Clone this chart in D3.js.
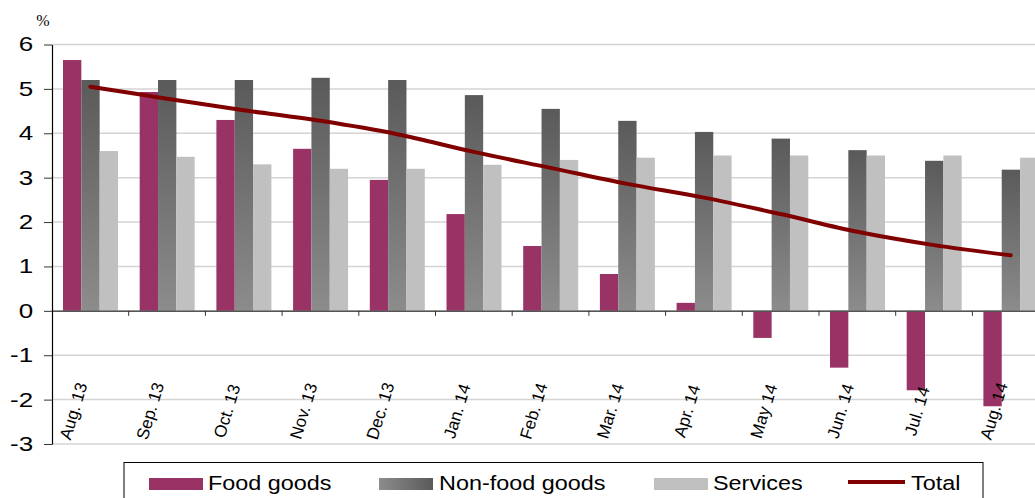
<!DOCTYPE html>
<html>
<head>
<meta charset="utf-8">
<script src="https://cdn.jsdelivr.net/npm/d3@7"></script>
<style>
  body { margin: 0; background: #fff; }
  svg { display: block; font-family: "Liberation Sans", Arial, sans-serif; }
</style>
</head>
<body>
<div id="chart"></div>
<script>
// data
const months = ['Aug. 13', 'Sep. 13', 'Oct. 13', 'Nov. 13', 'Dec. 13', 'Jan. 14', 'Feb. 14',
                'Mar. 14', 'Apr. 14', 'May 14', 'Jun. 14', 'Jul. 14', 'Aug. 14'];
const seriesNames = ['Food goods', 'Non-food goods', 'Services'];
const foodGoods = [5.65, 4.93, 4.30, 3.65, 2.95, 2.18, 1.46, 0.83, 0.18, -0.61, -1.28, -1.79, -2.15];
const nonFoodGoods = [5.20, 5.20, 5.20, 5.25, 5.20, 4.86, 4.55, 4.28, 4.03, 3.88, 3.62, 3.38, 3.18];
const services = [3.60, 3.47, 3.30, 3.20, 3.20, 3.29, 3.40, 3.45, 3.50, 3.50, 3.50, 3.50, 3.45];
const total = [5.05, 4.78, 4.52, 4.28, 3.98, 3.58, 3.22, 2.86, 2.55, 2.18, 1.78, 1.48, 1.25];
const yTicks = [-3, -2, -1, 0, 1, 2, 3, 4, 5, 6];

const W = 1035, H = 498;
const plotLeft = 52, plotTop = 44.5, plotBottom = 444;
const bandW = 76.7;

const svg = d3.select('#chart').append('svg')
    .attr('width', W).attr('height', H)
    .style('overflow', 'hidden');

// gradients
const defs = svg.append('defs');
const gv = defs.append('linearGradient').attr('id', 'nonfood-v')
    .attr('x1', 0).attr('y1', 0).attr('x2', 0).attr('y2', 1);
gv.append('stop').attr('offset', '0%').attr('stop-color', '#5a5a5a');
gv.append('stop').attr('offset', '100%').attr('stop-color', '#8c8c8c');
const gh = defs.append('linearGradient').attr('id', 'nonfood-h')
    .attr('x1', 0).attr('y1', 0).attr('x2', 1).attr('y2', 0);
gh.append('stop').attr('offset', '0%').attr('stop-color', '#8c8c8c');
gh.append('stop').attr('offset', '100%').attr('stop-color', '#5a5a5a');

const colors = { 'Food goods': '#993366', 'Non-food goods': 'url(#nonfood-v)', 'Services': '#c0c0c0' };

// scales
const x = d3.scaleBand().domain(months).range([plotLeft, plotLeft + bandW * months.length]).padding(0);
const x1 = d3.scaleBand().domain(seriesNames).range([11, 11 + 55]).padding(0);
const y = d3.scaleLinear().domain([-3, 6]).range([plotBottom, plotTop]);

// gridlines
svg.append('g').selectAll('line').data(yTicks).join('line')
    .attr('x1', plotLeft).attr('x2', W)
    .attr('y1', d => y(d)).attr('y2', d => y(d))
    .attr('stroke', '#d4d4d4').attr('stroke-width', 1.5);

// bars
const rows = months.map((m, i) => ({
    month: m,
    vals: [foodGoods[i], nonFoodGoods[i], services[i]].map((v, j) => ({ key: seriesNames[j], value: v }))
}));
const groups = svg.append('g').selectAll('g').data(rows).join('g')
    .attr('transform', d => `translate(${x(d.month)},0)`);
groups.selectAll('rect').data(d => d.vals).join('rect')
    .attr('x', d => x1(d.key))
    .attr('width', x1.bandwidth())
    .attr('y', d => y(Math.max(0, d.value)))
    .attr('height', d => Math.abs(y(d.value) - y(0)))
    .attr('fill', d => colors[d.key]);

// zero axis with category ticks
const xAxis = d3.axisBottom(x).tickSize(0).tickFormat('');
svg.append('g').attr('transform', `translate(0,${y(0)})`).call(xAxis)
    .select('.domain').attr('stroke', '#555').attr('stroke-width', 1.5);
svg.append('g').selectAll('line').data(months.slice(1)).join('line')
    .attr('x1', d => x(d)).attr('x2', d => x(d))
    .attr('y1', y(0)).attr('y2', y(0) + 5)
    .attr('stroke', '#333').attr('stroke-width', 1);

// category labels
svg.append('g').selectAll('text').data(months).join('text')
    .attr('transform', d => `translate(${x(d) + bandW / 2 - 17},411) rotate(-73)`)
    .attr('text-anchor', 'middle')
    .attr('dy', '0.35em')
    .attr('font-size', 17)
    .attr('fill', '#000')
    .text(d => d);

// total line
const line = d3.line()
    .x((d, i) => x(months[i]) + bandW / 2)
    .y(d => y(d))
    .curve(d3.curveCatmullRom.alpha(0.5));
svg.append('path').datum(total)
    .attr('d', line)
    .attr('fill', 'none')
    .attr('stroke', '#800000')
    .attr('stroke-width', 4)
    .attr('stroke-linecap', 'round');

// y axis
const yAxis = d3.axisLeft(y).tickValues(yTicks).tickSize(8).tickSizeOuter(0).tickFormat(d => String(d));
const yG = svg.append('g').attr('transform', `translate(${plotLeft},0)`).call(yAxis);
yG.select('.domain').attr('stroke', '#000').attr('stroke-width', 1.2);
yG.selectAll('.tick line').attr('stroke', '#333');
yG.selectAll('.tick text')
    .attr('font-size', 20)
    .attr('font-family', '"Liberation Sans", Arial, sans-serif')
    .attr('fill', '#000')
    .attr('x', -14.5)
    .attr('transform', 'scale(1.3,1)');

svg.append('text').attr('x', 43).attr('y', 26)
    .attr('text-anchor', 'middle')
    .attr('font-size', 16)
    .attr('font-family', '"Liberation Serif", serif')
    .text('%');

// legend
const lg = svg.append('g');
lg.append('rect').attr('x', 124).attr('y', 462.5).attr('width', 859).attr('height', 60)
    .attr('fill', '#fff').attr('stroke', '#000').attr('stroke-width', 1);
const legendItems = [
    { name: 'Food goods', sx: 149, tx: 208, type: 'bar', fill: '#993366' },
    { name: 'Non-food goods', sx: 379, tx: 439, type: 'bar', fill: 'url(#nonfood-h)' },
    { name: 'Services', sx: 654, tx: 713, type: 'bar', fill: '#c0c0c0' },
    { name: 'Total', sx: 848, tx: 911, type: 'line', fill: '#800000' }
];
legendItems.forEach(it => {
    if (it.type === 'bar') {
        lg.append('rect').attr('x', it.sx).attr('y', 478).attr('width', 54).attr('height', 12)
            .attr('fill', it.fill);
    } else {
        lg.append('line').attr('x1', it.sx).attr('x2', it.sx + 57)
            .attr('y1', 482).attr('y2', 482)
            .attr('stroke', it.fill).attr('stroke-width', 4);
    }
    lg.append('text')
        .attr('transform', `translate(${it.tx},490) scale(1.2,1)`)
        .attr('font-size', 19.5)
        .attr('fill', '#000')
        .text(it.name);
});
</script>
</body>
</html>
